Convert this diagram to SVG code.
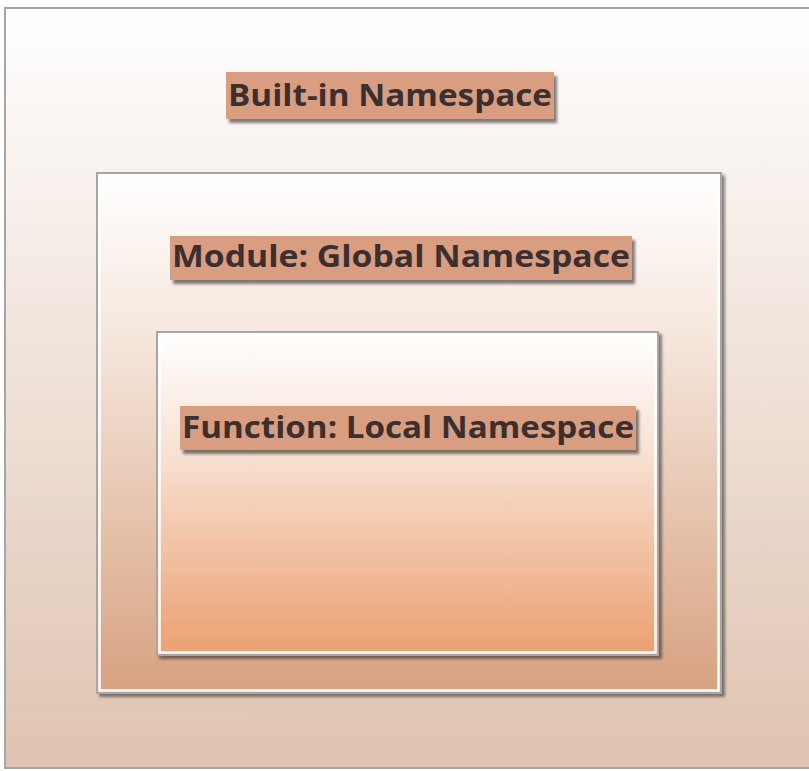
<svg xmlns="http://www.w3.org/2000/svg" width="809" height="771" viewBox="0 0 809 771">
<defs>
<linearGradient id="gOuter" x1="0" y1="0" x2="0" y2="1">
<stop offset="0" stop-color="#ffffff"/>
<stop offset="1" stop-color="#dfc3b0"/>
</linearGradient>
<linearGradient id="gMid" x1="0" y1="0" x2="0" y2="1">
<stop offset="0" stop-color="#ffffff"/>
<stop offset="0.3" stop-color="#f6e8de"/>
<stop offset="1" stop-color="#d7a180"/>
</linearGradient>
<linearGradient id="gIn" x1="0" y1="0" x2="0" y2="1">
<stop offset="0" stop-color="#ffffff"/>
<stop offset="0.35" stop-color="#f8e4d6"/>
<stop offset="1" stop-color="#eba070"/>
</linearGradient>
<filter id="sh" x="-5%" y="-5%" width="115%" height="115%">
<feDropShadow dx="3" dy="3" stdDeviation="1.5" flood-color="#000" flood-opacity="0.45"/>
</filter>
<filter id="lsh" x="-5%" y="-10%" width="115%" height="140%">
<feDropShadow dx="3" dy="4" stdDeviation="1.5" flood-color="#000" flood-opacity="0.5"/>
</filter>
</defs>
<style>
.frame{stroke:#a6a6a6;stroke-width:2}
.inner{fill:none;stroke:#ffffff;stroke-width:2.5}
.lbl{fill:#d99d80}
.txt{font-family:"Open Sans","DejaVu Sans",sans-serif;font-weight:bold;font-size:30px;fill:#3a3030}
</style>
<g id="builtin">
<rect x="5" y="8" width="810" height="760" fill="url(#gOuter)" class="frame"/>
<rect x="226" y="72" width="328" height="47" class="lbl" filter="url(#lsh)"/>
<text x="228" y="106" class="txt" textLength="324" lengthAdjust="spacingAndGlyphs">Built-in Namespace</text>
</g>
<g id="module">
<rect x="97" y="173" width="624" height="520" fill="url(#gMid)" class="frame" filter="url(#sh)"/>
<rect x="99.5" y="175.5" width="619" height="515" class="inner"/>
<rect x="170" y="236" width="462" height="44" class="lbl" filter="url(#lsh)"/>
<text x="172" y="267" class="txt" textLength="458" lengthAdjust="spacingAndGlyphs">Module: Global Namespace</text>
</g>
<g id="function">
<rect x="157" y="332" width="501" height="323" fill="url(#gIn)" class="frame" filter="url(#sh)"/>
<rect x="159.5" y="334.5" width="496" height="318" class="inner"/>
<rect x="180" y="406" width="456" height="44" class="lbl" filter="url(#lsh)"/>
<text x="182" y="438" class="txt" textLength="452" lengthAdjust="spacingAndGlyphs">Function: Local Namespace</text>
</g>
<g id="connectors"/>
</svg>
